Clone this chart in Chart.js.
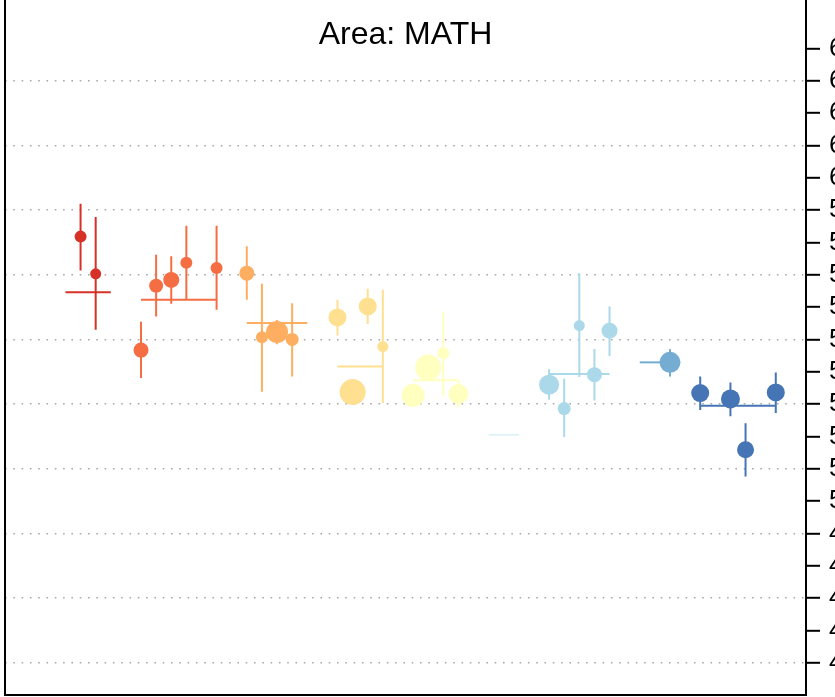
<!DOCTYPE html>
<html>
<head>
<meta charset="utf-8">
<script src="https://cdn.jsdelivr.net/npm/chart.js@4/dist/chart.umd.min.js"></script>
<style>
  html, body { margin:0; padding:0; background:#fff; overflow:hidden; }
  #wrap { width:900px; height:697px; }
</style>
</head>
<body>
<div id="wrap"><canvas id="c" width="900" height="697"></canvas></div>
<script>
// ============ DATA ============
const chartTitle = 'Area: MATH';
const yTicks = [450,460,470,480,490,500,510,520,530,540,550,560,570,580,590,600,610,620,630,640];

// group mean line: slot span and score
const groupSpan = [[0,3],[5,10],[12,16],[18,21],[23,26],[28,30],[32,36],[38,40],[42,47]];
const groupMean = [564.6, 562.3, 555.1, 541.6, 537.4, 520.5, 539.3, 542.9, 529.5];

// individual estimates per group
const pointSlot  = [[1,2],[5,6,7,8,10],[12,13,14,15],[18,19,20,21],[23,24,25,26],[],[32,33,34,35,36],[40],[42,44,45,47]];
const pointScore = [[581.8,570.3],[546.7,566.6,568.4,573.7,572.1],[570.5,550.7,552.3,550.0],[556.8,533.7,560.2,547.8],[532.7,541.3,545.7,533.1],[],[536.0,528.6,554.3,539.1,552.7],[542.9],[533.4,531.6,515.9,533.6]];
const pointLow   = [[571.3,553.0],[538.1,557.1,561.0,562.3,559.2],[562.3,533.8,548.5,538.5],[551.2,530.5,554.8,530.3],[529.5,537.5,532.4,528.9],[],[531.3,519.8,538.4,531.1,544.9],[538.5],[528.2,526.2,507.6,527.2]];
const pointHigh  = [[592.0,587.9],[555.5,576.2,575.7,585.2,585.2],[578.8,567.2,556.0,561.2],[562.3,537.0,565.7,565.4],[536.0,545.0,558.6,537.5],[],[540.8,537.8,570.5,547.0,560.2],[547.0],[538.5,536.7,524.1,539.8]];
const pointSize  = [[6,5.5],[7.5,7,8,6,6],[7.5,6,11,6.5],[9,13,9,5.5],[11.5,13,6,10],[],[10,6.5,5.5,7.5,8],[10.5],[9,9.5,8.5,9]];

const palette = ['#d73027','#f46d43','#fdae61','#fee090','#ffffbf','#e0f3f8','#abd9e9','#74add1','#4575b4'];

// ============ DATASETS ============
const datasets = [];
groupSpan.forEach((span, g) => {
  datasets.push({
    type:'line', order:3, showLine:true, pointRadius:0, borderWidth:2,
    borderColor:palette[g],
    data:[{x:span[0], y:groupMean[g]}, {x:span[1], y:groupMean[g]}]
  });
  const bars = [];
  pointSlot[g].forEach((s,i) => {
    bars.push({x:s, y:pointLow[g][i]}, {x:s, y:pointHigh[g][i]}, {x:s, y:null});
  });
  datasets.push({
    type:'line', order:2, showLine:true, spanGaps:false, pointRadius:0, borderWidth:2,
    borderColor:palette[g], data:bars
  });
  datasets.push({
    type:'bubble', order:1, backgroundColor:palette[g], borderWidth:0,
    data:pointSlot[g].map((s,i) => ({x:s, y:pointScore[g][i], r:pointSize[g][i]}))
  });
});

const titlePlugin = {
  id:'areaTitle',
  afterDraw(chart) {
    const {ctx, chartArea} = chart;
    ctx.save();
    ctx.font = '32px "Liberation Sans", Arial, sans-serif';
    ctx.fillStyle = '#000';
    ctx.textAlign = 'center';
    ctx.textBaseline = 'alphabetic';
    ctx.fillText(chartTitle, (chartArea.left + chartArea.right)/2, 44);
    ctx.restore();
  }
};

function noPad(s) {
  s.paddingLeft = 0; s.paddingRight = 0; s.paddingTop = 0; s.paddingBottom = 0;
}

new Chart(document.getElementById('c'), {
  type:'scatter',
  data:{ datasets },
  plugins:[titlePlugin],
  options:{
    responsive:false, animation:false, devicePixelRatio:1,
    layout:{ autoPadding:false, padding:{left:5, top:0, right:0, bottom:1} },
    plugins:{ legend:{display:false}, tooltip:{enabled:false}, title:{display:false} },
    scales:{
      x:{
        type:'linear', min:-4, max:49, position:'bottom',
        ticks:{display:false},
        grid:{display:false, drawTicks:false},
        border:{display:true, color:'#000', width:2},
        afterFit(s){ s.height = 1; noPad(s); }
      },
      yl:{
        type:'linear', position:'left', min:440, max:655,
        ticks:{display:false},
        grid:{display:false, drawTicks:false},
        border:{display:true, color:'#000', width:2},
        afterFit(s){ s.width = 0; noPad(s); }
      },
      y:{
        type:'linear', position:'right', min:440, max:655,
        afterBuildTicks(s){ s.ticks = yTicks.map(v => ({value:v})); },
        ticks:{ color:'#000', padding:9, font:{size:26, family:'"Liberation Sans", Arial, sans-serif'} },
        grid:{
          color: c => (c.tick && c.tick.value % 20 === 10) ? '#a8a8a8' : 'rgba(0,0,0,0)',
          lineWidth:1.6,
          tickColor:'#000', tickWidth:2, tickLength:14
        },
        border:{display:true, color:'#000', width:2, dash:[1.6,6.7]},
        afterFit(s){ s.width = 94; noPad(s); }
      }
    }
  }
});
</script>
</body>
</html>
